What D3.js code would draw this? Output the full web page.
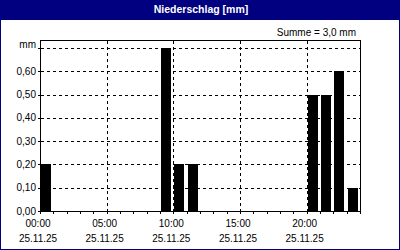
<!DOCTYPE html>
<html>
<head>
<meta charset="utf-8">
<script src="https://cdn.jsdelivr.net/npm/d3@7"></script>
<style>
  html, body { margin: 0; padding: 0; background: #fff; }
  svg { display: block; }
  text { font-family: "Liberation Sans", Arial, sans-serif; }
</style>
</head>
<body>
<script>
// ---- data ----
const titleText = "Niederschlag [mm]";
const sumText = "Summe = 3,0 mm";
const hours = d3.range(0, 24);
const values = [0.2, 0, 0, 0, 0, 0, 0, 0, 0, 0.7, 0.2, 0.2,
                0, 0, 0, 0, 0, 0, 0, 0, 0.5, 0.5, 0.6, 0.1];
const xTickHours = [0, 5, 10, 15, 20];
const xTickTimes = ["00:00", "05:00", "10:00", "15:00", "20:00"];
const xTickDate = "25.11.25";
const yTicks = [0, 0.1, 0.2, 0.3, 0.4, 0.5, 0.6, 0.7];
const yUnit = "mm";

// ---- layout ----
const W = 400, H = 250;
const navy = "#000080";
const svg = d3.select("body").append("svg").attr("width", W).attr("height", H);

svg.append("rect").attr("x", 0.5).attr("y", 0.5).attr("width", W - 1).attr("height", H - 1)
  .attr("fill", "#fff").attr("stroke", navy);
svg.append("rect").attr("x", 0).attr("y", 0).attr("width", W).attr("height", 20).attr("fill", navy);
svg.append("text").attr("x", 201).attr("y", 13).attr("text-anchor", "middle")
  .attr("fill", "#fff").attr("font-weight", "bold").attr("font-size", "10.5px").text(titleText);
svg.append("text").attr("x", 356).attr("y", 36).attr("text-anchor", "end")
  .attr("fill", "#000").attr("font-size", "10px").text(sumText);

const x = d3.scaleLinear().domain([0, 24]).range([40, 360]);
const y = d3.scaleLinear().domain([0, 0.7]).range([211, 48]);
const plotTop = 40;
const px = v => Math.round(v) + 0.5;

const g = svg.append("g").attr("shape-rendering", "crispEdges");

// grid
g.selectAll("line.hg").data(yTicks.filter(v => v > 0)).enter().append("line")
  .attr("x1", 41).attr("x2", 360).attr("y1", d => px(y(d))).attr("y2", d => px(y(d)))
  .attr("stroke", "#000").attr("stroke-dasharray", "3,3");
g.selectAll("line.vg").data(xTickHours.filter(h => h > 0)).enter().append("line")
  .attr("x1", d => px(x(d))).attr("x2", d => px(x(d))).attr("y1", plotTop + 1).attr("y2", 211)
  .attr("stroke", "#000").attr("stroke-dasharray", "3,3");

// bars
const bw = (x(1) - x(0)) * 0.75;
g.selectAll("rect.bar").data(hours.filter(h => values[h] > 0)).enter().append("rect")
  .attr("x", d => Math.round(x(d)) + 1).attr("width", Math.round(bw))
  .attr("y", d => Math.round(y(values[d]))).attr("height", d => 211 - Math.round(y(values[d])))
  .attr("fill", "#000");

// frame
g.append("rect").attr("x", 40.5).attr("y", plotTop + 0.5).attr("width", 320).attr("height", 211 - plotTop)
  .attr("fill", "none").attr("stroke", "#000");

// x minor ticks
g.selectAll("line.xt").data(d3.range(0, 25)).enter().append("line")
  .attr("x1", d => px(x(d))).attr("x2", d => px(x(d))).attr("y1", 211).attr("y2", 214)
  .attr("stroke", "#000");
// y ticks
g.selectAll("line.yt").data(yTicks).enter().append("line")
  .attr("x1", 38).attr("x2", 41).attr("y1", d => px(y(d))).attr("y2", d => px(y(d)))
  .attr("stroke", "#000");

// y labels
const fmt = v => d3.format(".2f")(v).replace(".", ",");
svg.selectAll("text.yl").data(yTicks.slice(0, -1)).enter().append("text")
  .attr("x", 36).attr("y", d => y(d) + 3.5).attr("text-anchor", "end")
  .attr("font-size", "10px").attr("fill", "#000").text(fmt);
svg.append("text").attr("x", 36).attr("y", y(0.7) - 0.5).attr("text-anchor", "end")
  .attr("font-size", "10px").attr("fill", "#000").text(yUnit);

// x labels
const xl = svg.selectAll("g.xl").data(xTickHours).enter().append("g");
xl.append("text").attr("x", d => x(d) - 2).attr("y", 227).attr("text-anchor", "middle")
  .attr("font-size", "10px").attr("fill", "#000").text((d, i) => xTickTimes[i]);
xl.append("text").attr("x", d => x(d) - 2).attr("y", 242).attr("text-anchor", "middle")
  .attr("font-size", "10px").attr("fill", "#000").text(xTickDate);
</script>
</body>
</html>
